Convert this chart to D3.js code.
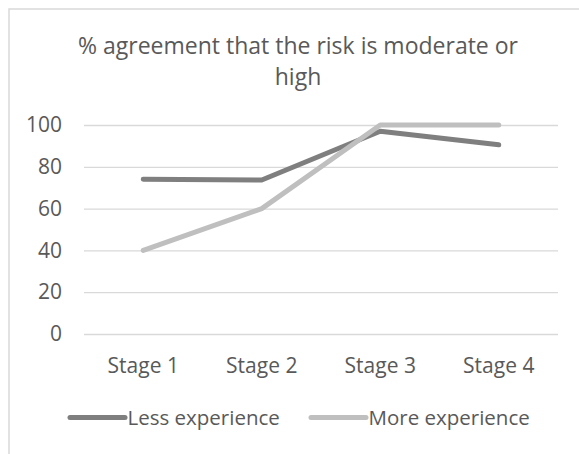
<!DOCTYPE html>
<html><head><meta charset="utf-8">
<script src="https://cdn.jsdelivr.net/npm/d3@7"></script>
<style>body{margin:0;background:#fff;} svg{display:block;font-family:"Open Sans",sans-serif;}</style>
</head><body>
<svg id="c" width="579" height="454"></svg>
<script>
const categories = ["Stage 1", "Stage 2", "Stage 3", "Stage 4"];
const lessExperience = [74, 73.7, 97, 90.5];
const moreExperience = [40, 60, 100, 100];
const yTicks = [0, 20, 40, 60, 80, 100];
const seriesNames = ["Less experience", "More experience"];
const seriesColors = ["#7f7f7f", "#bfbfbf"];

const svg = d3.select("#c");
const txt = "#595959";
// chart border
svg.append("rect").attr("x", 9).attr("y", 9).attr("width", 600).attr("height", 500)
  .attr("fill", "none").attr("stroke", "#d9d9d9").attr("stroke-width", 1.5);

svg.append("text").attr("x", 298).attr("y", 54).attr("text-anchor", "middle")
  .attr("fill", txt).attr("font-size", 23).text("% agreement that the risk is moderate or");
svg.append("text").attr("x", 298).attr("y", 85).attr("text-anchor", "middle")
  .attr("fill", txt).attr("font-size", 23).text("high");

const x = d3.scaleBand().domain(categories).range([84, 558]);
const y = d3.scaleLinear().domain([0, 100]).range([334, 125]);

const yAxis = svg.append("g").attr("transform", "translate(84,0)")
  .call(d3.axisLeft(y).tickValues(yTicks).tickSize(-474).tickPadding(22));
yAxis.select(".domain").remove();
yAxis.selectAll("line").attr("stroke", "#d9d9d9").attr("stroke-width", 1.3);
yAxis.selectAll("text").attr("fill", txt).attr("font-size", 21).attr("font-family", "Open Sans");

const xAxis = svg.append("g").attr("transform", "translate(0,334)")
  .call(d3.axisBottom(x).tickSize(0).tickPadding(24));
xAxis.select(".domain").remove();
xAxis.selectAll("text").attr("fill", txt).attr("font-size", 21).attr("font-family", "Open Sans");

const line = d3.line().x((d, i) => x(categories[i]) + x.bandwidth() / 2).y(d => y(d));
[lessExperience, moreExperience].forEach((s, k) => {
  svg.append("path").datum(s).attr("d", line).attr("fill", "none")
    .attr("stroke", seriesColors[k]).attr("stroke-width", 5)
    .attr("stroke-linecap", "round").attr("stroke-linejoin", "round");
});
const legendX = [70, 311];
seriesNames.forEach((n, k) => {
  const g = svg.append("g").attr("transform", `translate(${legendX[k]},417.5)`);
  g.append("line").attr("x1", 0).attr("x2", 55).attr("y1", 0).attr("y2", 0)
    .attr("stroke", seriesColors[k]).attr("stroke-width", 5).attr("stroke-linecap", "round");
  g.append("text").attr("x", 57.5).attr("y", 7.5).attr("fill", txt).attr("font-size", 20.5).text(n);
});
</script>
</body></html>
